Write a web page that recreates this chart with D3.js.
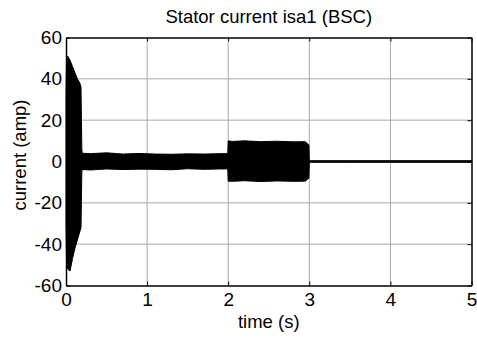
<!DOCTYPE html>
<html>
<head>
<meta charset="utf-8">
<script src="https://cdn.jsdelivr.net/npm/d3@7"></script>
<style>
  body { margin: 0; background: #fff; }
  svg { display: block; font-family: "Liberation Sans", Arial, sans-serif; }
</style>
</head>
<body>
<svg id="chart"></svg>
<script>
// envelope of the (very dense) stator current signal
const envTime  = [0, 0.005, 0.02, 0.05, 0.08, 0.11, 0.14, 0.17, 0.185, 0.195, 0.2, 0.3, 0.5, 0.7, 0.9, 1.1, 1.3, 1.5, 1.7, 1.9, 1.995, 2.0, 2.05, 2.2, 2.4, 2.6, 2.8, 2.95, 2.995, 3.0, 3.5, 4.0, 4.5, 5.0];
const envUpper = [32, 45, 51, 49, 46, 43, 40, 38, 36, 6, 4, 3.8, 4.2, 3.6, 3.9, 3.6, 3.5, 3.7, 3.6, 3.8, 3.8, 10, 9.7, 10, 9.6, 9.8, 9.5, 9.6, 8, 0.4, 0.4, 0.4, 0.4, 0.4];
const envLower = [-30, -45, -52, -53, -47, -42, -38, -34, -32, -5, -3.9, -4.1, -3.6, -3.9, -3.7, -3.8, -4.0, -3.5, -3.8, -3.6, -3.6, -9.5, -9.6, -9.3, -9.7, -9.4, -9.6, -9.5, -8, -0.4, -0.4, -0.4, -0.4, -0.4];

const xTicks = [0, 1, 2, 3, 4, 5];
const yTicks = [-60, -40, -20, 0, 20, 40, 60];

const W = 477, H = 338;
const margin = { top: 37.5, right: 5.5, bottom: 52.5, left: 66 };
const width = W - margin.left - margin.right;
const height = H - margin.top - margin.bottom;

const svg = d3.select("#chart").attr("width", W).attr("height", H);

const x = d3.scaleLinear().domain([0, 5]).range([0, width]);
const y = d3.scaleLinear().domain([-60, 60]).range([height, 0]);

const g = svg.append("g").attr("transform", `translate(${margin.left},${margin.top})`);

// grid
g.append("g")
    .selectAll("line")
    .data(xTicks.slice(1, -1))
    .join("line")
    .attr("x1", d => x(d)).attr("x2", d => x(d))
    .attr("y1", 0).attr("y2", height)
    .attr("stroke", "#a8a8a8").attr("stroke-width", 1);

g.append("g")
    .selectAll("line")
    .data(yTicks.slice(1, -1))
    .join("line")
    .attr("y1", d => y(d)).attr("y2", d => y(d))
    .attr("x1", 0).attr("x2", width)
    .attr("stroke", "#a8a8a8").attr("stroke-width", 1);

// signal envelope
const env = envTime.map((t, i) => ({ t, hi: envUpper[i], lo: envLower[i] }));
const area = d3.area()
    .x(d => x(d.t))
    .y0(d => y(d.lo))
    .y1(d => y(d.hi));

g.append("path")
    .datum(env)
    .attr("d", area)
    .attr("fill", "#000")
    .attr("stroke", "#000")
    .attr("stroke-width", 1);

// axes (MATLAB style: ticks inside, box all around)
const fmt = d3.format("d");
const xAxis = g.append("g")
    .attr("transform", `translate(0,${height})`)
    .call(d3.axisBottom(x).tickValues(xTicks).tickFormat(fmt).tickSize(-4).tickPadding(7).tickSizeOuter(0));
const xAxisTop = g.append("g")
    .call(d3.axisTop(x).tickValues(xTicks).tickSize(-4).tickFormat("").tickSizeOuter(0));
const yAxis = g.append("g")
    .call(d3.axisLeft(y).tickValues(yTicks).tickFormat(fmt).tickSize(-4).tickPadding(4).tickSizeOuter(0));
const yAxisRight = g.append("g")
    .attr("transform", `translate(${width},0)`)
    .call(d3.axisRight(y).tickValues(yTicks).tickSize(-4).tickFormat("").tickSizeOuter(0));

[xAxis, xAxisTop, yAxis, yAxisRight].forEach(a => {
    a.select(".domain").attr("stroke", "#000").attr("stroke-width", 1.5);
    a.selectAll(".tick line").attr("stroke", "#000");
    a.selectAll("text")
        .attr("font-family", "'Liberation Sans', Arial, sans-serif")
        .attr("font-size", 19)
        .attr("fill", "#000");
});
// MATLAB uses a plain hyphen for negatives
yAxis.selectAll("text").text(d => d < 0 ? "-" + Math.abs(d) : d);

// title & labels
svg.append("text")
    .attr("x", margin.left + width / 2)
    .attr("y", 23)
    .attr("text-anchor", "middle")
    .attr("font-size", 18.5)
    .text("Stator current isa1 (BSC)");

svg.append("text")
    .attr("x", margin.left + width / 2)
    .attr("y", 328)
    .attr("text-anchor", "middle")
    .attr("font-size", 18.5)
    .text("time (s)");

svg.append("text")
    .attr("transform", `translate(26,155) rotate(-90)`)
    .attr("text-anchor", "middle")
    .attr("font-size", 18.5)
    .text("current (amp)");
</script>
</body>
</html>
